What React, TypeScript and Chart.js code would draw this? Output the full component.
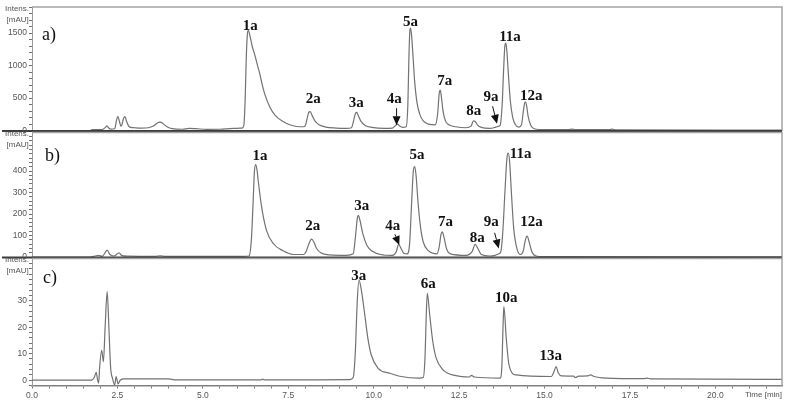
import React, { useEffect, useRef } from 'react';
import { Chart, registerables } from 'chart.js';

Chart.register(...registerables);

// ---------- data (time [min], intensity [mAU]) ----------
const TIME_MIN = 0;
const TIME_MAX = 21.95;
const xTickLabels = ['0.0', '2.5', '5.0', '7.5', '10.0', '12.5', '15.0', '17.5', '20.0'];

const yTicksA = [0, 500, 1000, 1500];
const yTicksB = [0, 100, 200, 300, 400];
const yTicksC = [0, 10, 20, 30];

const traceA: [number, number][] = [
  [0, 2], [1.7, 2], [1.75, 15], [2.05, 18], [2.15, 50], [2.19, 75], [2.24, 45], [2.3, 25], [2.42, 30],
  [2.47, 150], [2.51, 220], [2.56, 140], [2.6, 70], [2.63, 90], [2.68, 190], [2.72, 215], [2.77, 140],
  [2.83, 70], [2.9, 50], [3.0, 45], [3.2, 40], [3.4, 45], [3.55, 70], [3.65, 110], [3.74, 130], [3.83, 110],
  [3.95, 60], [4.1, 30], [4.4, 22], [4.6, 35], [4.8, 30], [5.1, 20], [5.5, 22], [5.9, 35], [6.15, 40],
  [6.2, 80], [6.24, 500], [6.27, 1100], [6.3, 1450], [6.33, 1540], [6.37, 1470], [6.45, 1280], [6.52, 1160],
  [6.6, 1000], [6.67, 861], [6.74, 700], [6.81, 563], [6.96, 363], [7.11, 239], [7.35, 139], [7.54, 90],
  [7.74, 64], [7.95, 60], [8.0, 80], [8.05, 180], [8.1, 280], [8.14, 290], [8.2, 230], [8.28, 150], [8.4, 90],
  [8.6, 55], [8.9, 40], [9.2, 35], [9.35, 45], [9.42, 170], [9.47, 270], [9.5, 280], [9.55, 230], [9.62, 150],
  [9.75, 80], [9.95, 50], [10.3, 35], [10.55, 40], [10.65, 85], [10.7, 100], [10.76, 70], [10.85, 50],
  [10.95, 60], [11.0, 400], [11.03, 1100], [11.06, 1540], [11.08, 1570], [11.11, 1450], [11.15, 1150],
  [11.2, 750], [11.27, 420], [11.35, 250], [11.45, 150], [11.6, 100], [11.8, 90], [11.87, 250], [11.92, 580],
  [11.95, 620], [11.98, 520], [12.03, 300], [12.1, 150], [12.2, 90], [12.4, 60], [12.7, 45], [12.85, 70],
  [12.92, 150], [12.97, 140], [13.05, 80], [13.15, 50], [13.4, 35], [13.58, 55], [13.64, 65], [13.7, 80],
  [13.76, 400], [13.8, 900], [13.84, 1300], [13.87, 1340], [13.9, 1200], [13.95, 800], [14.0, 450],
  [14.07, 200], [14.15, 90], [14.25, 55], [14.33, 100], [14.38, 300], [14.43, 440], [14.47, 400],
  [14.52, 220], [14.6, 80], [14.7, 30], [15.0, 15], [15.7, 15], [15.8, 25], [15.9, 15], [16.9, 15],
  [16.98, 25], [17.1, 12], [21.95, 10],
];

const traceB: [number, number][] = [
  [0, 0], [1.7, 0], [1.8, 3], [1.95, 8], [2.05, 3], [2.12, 15], [2.2, 32], [2.28, 12], [2.4, 5], [2.5, 15],
  [2.55, 20], [2.62, 8], [2.8, 4], [3.6, 3], [3.75, 6], [3.9, 3], [5.0, 3], [6.2, 3], [6.35, 5], [6.42, 80],
  [6.47, 250], [6.51, 400], [6.55, 430], [6.59, 400], [6.62, 356], [6.72, 233], [6.86, 125], [7.06, 63],
  [7.35, 29], [7.64, 12], [7.95, 12], [8.02, 25], [8.1, 60], [8.18, 83], [8.25, 70], [8.33, 40], [8.45, 20],
  [8.7, 10], [9.2, 8], [9.4, 15], [9.47, 100], [9.52, 180], [9.55, 194], [9.6, 170], [9.68, 110], [9.8, 55],
  [9.95, 28], [10.2, 12], [10.55, 8], [10.66, 25], [10.73, 59], [10.8, 40], [10.88, 18], [10.98, 15],
  [11.05, 60], [11.11, 250], [11.16, 400], [11.2, 421], [11.24, 380], [11.3, 250], [11.37, 140], [11.45, 70],
  [11.6, 30], [11.85, 15], [11.92, 50], [11.97, 105], [12.01, 117], [12.06, 90], [12.13, 40], [12.25, 15],
  [12.7, 8], [12.88, 25], [12.97, 59], [13.05, 40], [13.15, 12], [13.4, 5], [13.55, 8], [13.65, 14],
  [13.72, 25], [13.78, 120], [13.84, 300], [13.9, 460], [13.94, 483], [13.98, 440], [14.03, 300],
  [14.1, 130], [14.2, 35], [14.3, 12], [14.38, 30], [14.44, 80], [14.49, 97], [14.55, 70], [14.63, 25],
  [14.75, 5], [15.0, 2], [21.95, 1],
];

const traceC: [number, number][] = [
  [0, 0], [1.75, 0], [1.82, 1], [1.88, 3], [1.92, 0], [1.95, -1.1], [1.98, 5], [2.04, 11.3], [2.09, 7],
  [2.14, 20], [2.2, 33.4], [2.25, 20], [2.3, 5], [2.36, 0.5], [2.42, -1.8], [2.46, 1.4], [2.52, -1.4],
  [2.58, 0], [2.7, 0.5], [4.0, 0.5], [4.2, 0.1], [6.7, 0.1], [6.75, 0.4], [6.8, 0.1], [9.3, 0.2], [9.4, 1],
  [9.46, 10], [9.52, 30], [9.57, 37.8], [9.63, 34.7], [9.74, 24.6], [9.83, 15.8], [9.93, 9.5], [10.13, 4.5],
  [10.47, 2.6], [10.76, 1.5], [11.35, 0.8], [11.45, 1], [11.5, 8], [11.54, 25], [11.57, 32.8], [11.64, 24.6],
  [11.73, 14.6], [11.83, 8.3], [12.03, 3.9], [12.41, 1.7], [12.8, 1.2], [12.86, 1.8], [12.95, 1.2],
  [13.7, 0.8], [13.75, 5], [13.79, 22], [13.81, 27.8], [13.88, 15.8], [13.96, 5.8], [14.17, 2], [15.2, 1.4],
  [15.27, 3], [15.34, 5.1], [15.4, 2.8], [15.5, 1.6], [15.85, 1.5], [15.9, 1.0], [16.0, 1.5], [16.25, 1.6],
  [16.35, 2.0], [16.45, 1.4], [16.8, 0.8], [17.9, 0.6], [18.0, 0.8], [18.1, 0.5], [21.95, 0.3],
];

// peak labels: [text, time, intensity]
const peaksA: [string, number, number][] = [
  ['1a', 6.39, 1597], ['2a', 8.23, 478], ['3a', 9.49, 428], ['4a', 10.6, 478], ['5a', 11.08, 1657],
  ['7a', 12.08, 751], ['8a', 12.93, 299], ['9a', 13.43, 512], ['11a', 13.99, 1433], ['12a', 14.61, 527],
];
const peaksB: [string, number, number][] = [
  ['1a', 6.67, 468], ['2a', 8.22, 145], ['3a', 9.65, 236], ['4a', 10.56, 145], ['5a', 11.27, 472],
  ['7a', 12.1, 163], ['8a', 13.03, 89], ['9a', 13.44, 163], ['11a', 14.3, 477], ['12a', 14.62, 163],
];
const peaksC: [string, number, number][] = [
  ['3a', 9.56, 39.4], ['6a', 11.6, 36.2], ['10a', 13.88, 31.1], ['13a', 15.18, 9.2],
];

// arrows: [fromTime, fromIntensity, toTime, toIntensity]
const arrowsA: [number, number, number, number][] = [
  [10.67, 343, 10.67, 82], [13.48, 373, 13.61, 105],
];
const arrowsB: [number, number, number, number][] = [
  [10.62, 106, 10.75, 56], [13.54, 113, 13.66, 40],
];

// ---------- panels ----------
type PanelSpec = {
  letter: string;
  trace: [number, number][];
  yMin: number; yMax: number; yStep: number; yMajor: number[];
  top: number; bottom: number; showX: boolean;
  peaks: [string, number, number][];
  arrows: [number, number, number, number][];
  letterPos: [number, number];
};

const W = 790;
const H = 405;

const panels: PanelSpec[] = [
  { letter: 'a)', trace: traceA, yMin: -5, yMax: 1890, yStep: 100, yMajor: yTicksA, top: 4, bottom: 131,
    showX: false, peaks: peaksA, arrows: arrowsA, letterPos: [42, 35] },
  { letter: 'b)', trace: traceB, yMin: -2, yMax: 579, yStep: 20, yMajor: yTicksB, top: 132.5, bottom: 257.5,
    showX: false, peaks: peaksB, arrows: arrowsB, letterPos: [45, 156] },
  { letter: 'c)', trace: traceC, yMin: -2, yMax: 45.9, yStep: 2, yMajor: yTicksC, top: 258.5, bottom: 385.5,
    showX: true, peaks: peaksC, arrows: [], letterPos: [43, 278] },
];

const tickFont = { family: '"Liberation Sans", Arial, sans-serif', size: 8.5 };
const TICK_LEN = 3;
const TICK_PAD = 2;

function makePlugin(p: PanelSpec) {
  return {
    id: 'panelDeco',
    afterDraw(chart: any) {
      const { ctx, chartArea: a, scales } = chart;
      const xs = scales.x;
      const ys = scales.y;
      ctx.save();
      // frame top + right
      ctx.strokeStyle = '#a4a4a4';
      ctx.lineWidth = 1.5;
      ctx.beginPath();
      ctx.moveTo(a.left, a.top);
      ctx.lineTo(a.right, a.top);
      ctx.lineTo(a.right, a.bottom);
      ctx.stroke();
      if (!p.showX) {
        ctx.strokeStyle = '#3c3c3c';
        ctx.lineWidth = 2;
        ctx.beginPath();
        ctx.moveTo(2, a.bottom);
        ctx.lineTo(a.right, a.bottom);
        ctx.stroke();
      }
      // y tick labels (major ticks), placed with the library's y scale
      ctx.fillStyle = '#555';
      ctx.font = `${tickFont.size}px ${tickFont.family}`;
      ctx.textAlign = 'right';
      ctx.textBaseline = 'middle';
      for (const m of p.yMajor) {
        ctx.fillText(String(m), a.left - TICK_LEN - TICK_PAD, ys.getPixelForValue(m));
      }
      // axis unit labels
      ctx.font = '8px "Liberation Sans", Arial, sans-serif';
      ctx.textAlign = 'left';
      ctx.fillText('Intens.', 5, a.top + 1.5);
      ctx.fillText('[mAU]', 6.5, a.top + 12.5);
      if (p.showX) {
        ctx.textAlign = 'right';
        ctx.fillText('Time [min]', a.right, a.bottom + 9.5);
      }
      // panel letter
      ctx.fillStyle = '#111';
      ctx.font = '18px "Liberation Serif", "Times New Roman", serif';
      ctx.textAlign = 'left';
      ctx.fillText(p.letter, p.letterPos[0], p.letterPos[1]);
      // peak labels
      ctx.font = 'bold 15px "Liberation Serif", "Times New Roman", serif';
      ctx.textAlign = 'center';
      for (const [txt, t, v] of p.peaks) {
        ctx.fillText(txt, xs.getPixelForValue(t), ys.getPixelForValue(v));
      }
      // arrows
      ctx.strokeStyle = '#111';
      ctx.fillStyle = '#111';
      ctx.lineWidth = 1;
      for (const [t0, v0, t1, v1] of p.arrows) {
        const x0 = xs.getPixelForValue(t0);
        const y0 = ys.getPixelForValue(v0);
        const x1 = xs.getPixelForValue(t1);
        const y1 = ys.getPixelForValue(v1);
        const ang = Math.atan2(y1 - y0, x1 - x0);
        const hl = 9;
        const hw = 4;
        const bx = x1 - hl * Math.cos(ang);
        const by = y1 - hl * Math.sin(ang);
        ctx.beginPath();
        ctx.moveTo(x0, y0);
        ctx.lineTo(bx, by);
        ctx.stroke();
        ctx.beginPath();
        ctx.moveTo(x1, y1);
        ctx.lineTo(bx + hw * Math.sin(ang), by - hw * Math.cos(ang));
        ctx.lineTo(bx - hw * Math.sin(ang), by + hw * Math.cos(ang));
        ctx.closePath();
        ctx.fill();
      }
      ctx.restore();
    },
  };
}

function Panel({ spec }: { spec: PanelSpec }) {
  const ref = useRef<HTMLCanvasElement | null>(null);
  useEffect(() => {
    if (!ref.current) return;
    const p = spec;
    const chart = new Chart(ref.current, {
      type: 'line',
      data: {
        datasets: [
          {
            data: p.trace.map(([x, y]) => ({ x, y })),
            borderColor: '#727272',
            borderWidth: 1.2,
            pointRadius: 0,
            fill: false,
            cubicInterpolationMode: 'monotone',
          },
        ],
      },
      options: {
        responsive: false,
        animation: false,
        events: [],
        layout: { padding: { left: 0, right: W - 782, top: p.top, bottom: p.showX ? 0 : H - p.bottom } },
        plugins: { legend: { display: false }, tooltip: { enabled: false } },
        scales: {
          x: {
            type: 'linear',
            display: p.showX,
            min: TIME_MIN,
            max: TIME_MAX,
            border: { display: true, color: '#808080', width: 1.5 },
            grid: { drawOnChartArea: false, drawTicks: true, tickLength: TICK_LEN, color: '#707070' },
            ticks: {
              stepSize: 0.5,
              autoSkip: false,
              maxRotation: 0,
              minRotation: 0,
              includeBounds: false,
              padding: TICK_PAD,
              color: '#555',
              font: tickFont,
              callback: (v: any) => {
                const n = Number(v);
                const i = Math.round(n / 2.5);
                if (Math.abs(n - i * 2.5) < 1e-6 && i >= 0 && i < xTickLabels.length) return xTickLabels[i];
                return '';
              },
            },
            afterFit: (s: any) => { if (p.showX) s.height = H - p.bottom; },
          },
          y: {
            type: 'linear',
            min: p.yMin,
            max: p.yMax,
            border: { display: true, color: '#9a9a9a', width: 1 },
            grid: { drawOnChartArea: false, drawTicks: true, tickLength: TICK_LEN, color: '#707070' },
            ticks: {
              stepSize: p.yStep,
              autoSkip: false,
              includeBounds: false,
              padding: TICK_PAD,
              font: tickFont,
              callback: () => '',
            },
            afterFit: (s: any) => { s.width = 32; },
          },
        },
      },
      plugins: [makePlugin(p)],
    } as any);
    return () => chart.destroy();
  }, [spec]);
  return (
    <canvas
      ref={ref}
      width={W}
      height={H}
      style={{ position: 'absolute', left: 0, top: 0, width: W, height: H }}
    />
  );
}

export default function App() {
  return (
    <div style={{ position: 'fixed', left: 0, top: 0, width: W, height: H, background: '#fff', overflow: 'hidden' }}>
      {panels.map((p) => (
        <Panel key={p.letter} spec={p} />
      ))}
    </div>
  );
}
